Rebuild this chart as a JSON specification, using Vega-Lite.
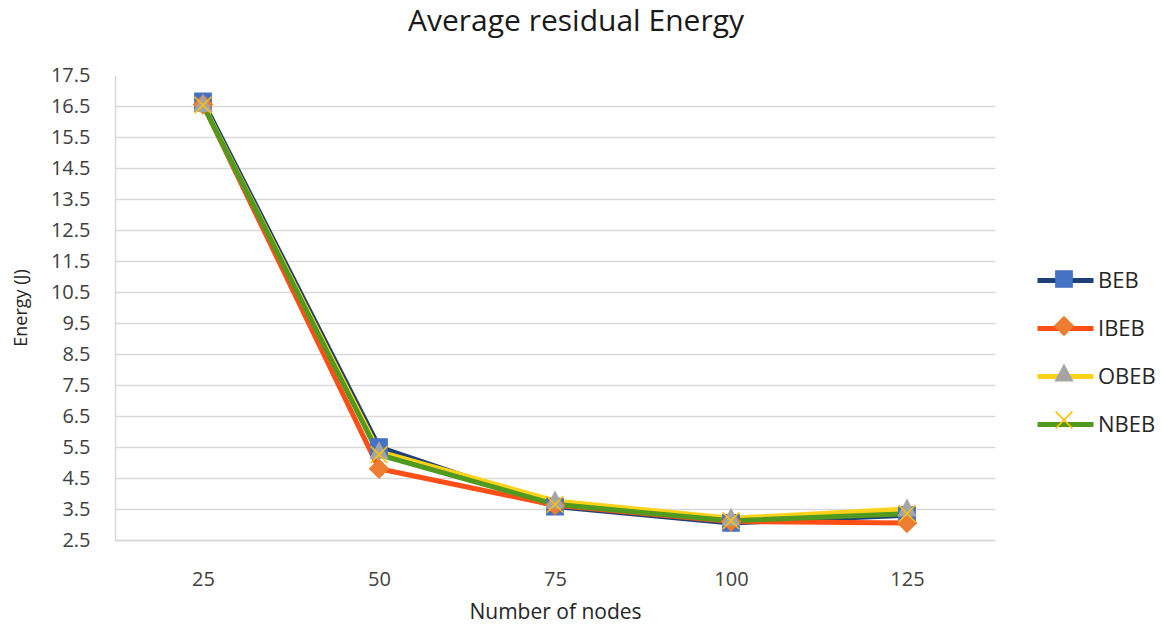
{
  "$schema": "https://vega.github.io/schema/vega-lite/v6.json",
  "width": 880,
  "height": 465,
  "autosize": {"type": "none"},
  "padding": {"left": 115, "top": 75, "right": 166, "bottom": 87},
  "background": "white",
  "config": {
    "font": "Open Sans",
    "view": {"stroke": null}
  },
  "title": {
    "text": "Average residual Energy",
    "fontSize": 30,
    "fontWeight": "normal",
    "color": "#1a1a1a",
    "anchor": "middle",
    "frame": "group",
    "dx": 21,
    "offset": 28
  },
  "data": {
    "values": [
      {"nodes": 25, "series": "BEB", "energy": 16.65},
      {"nodes": 50, "series": "BEB", "energy": 5.5},
      {"nodes": 75, "series": "BEB", "energy": 3.58},
      {"nodes": 100, "series": "BEB", "energy": 3.05},
      {"nodes": 125, "series": "BEB", "energy": 3.3},
      {"nodes": 25, "series": "IBEB", "energy": 16.55},
      {"nodes": 50, "series": "IBEB", "energy": 4.8},
      {"nodes": 75, "series": "IBEB", "energy": 3.62},
      {"nodes": 100, "series": "IBEB", "energy": 3.1},
      {"nodes": 125, "series": "IBEB", "energy": 3.05},
      {"nodes": 25, "series": "OBEB", "energy": 16.55},
      {"nodes": 50, "series": "OBEB", "energy": 5.35},
      {"nodes": 75, "series": "OBEB", "energy": 3.76},
      {"nodes": 100, "series": "OBEB", "energy": 3.2},
      {"nodes": 125, "series": "OBEB", "energy": 3.5},
      {"nodes": 25, "series": "NBEB", "energy": 16.53},
      {"nodes": 50, "series": "NBEB", "energy": 5.25},
      {"nodes": 75, "series": "NBEB", "energy": 3.65},
      {"nodes": 100, "series": "NBEB", "energy": 3.12},
      {"nodes": 125, "series": "NBEB", "energy": 3.35}
    ]
  },
  "encoding": {
    "x": {
      "field": "nodes",
      "type": "ordinal",
      "scale": {"type": "point", "padding": 0.5},
      "axis": {
        "title": "Number of nodes",
        "titleFontSize": 21,
        "titleFontWeight": "normal",
        "titleColor": "#262626",
        "titlePadding": 12,
        "labelAngle": 0,
        "labelFontSize": 20,
        "labelColor": "#404040",
        "labelPadding": 29,
        "ticks": false,
        "domainColor": "#d9d9d9",
        "domainWidth": 1.5,
        "grid": false
      }
    },
    "y": {
      "field": "energy",
      "type": "quantitative",
      "scale": {"domain": [2.5, 17.5], "nice": false, "zero": false},
      "axis": {
        "title": "Energy (J)",
        "titleFontSize": 18,
        "titleFontWeight": "normal",
        "titleColor": "#262626",
        "titlePadding": 20,
        "values": [2.5, 3.5, 4.5, 5.5, 6.5, 7.5, 8.5, 9.5, 10.5, 11.5, 12.5, 13.5, 14.5, 15.5, 16.5, 17.5],
        "format": ".1f",
        "labelFontSize": 20,
        "labelColor": "#404040",
        "labelPadding": 25,
        "ticks": false,
        "domainColor": "#d9d9d9",
        "domainWidth": 1.5,
        "grid": true,
        "gridColor": {"condition": {"test": "datum.value >= 17.5", "value": "transparent"}, "value": "#d9d9d9"},
        "gridWidth": 1.5
      }
    }
  },
  "layer": [
    {
      "mark": {"type": "line", "strokeWidth": 5, "strokeJoin": "round", "strokeCap": "round"},
      "encoding": {
        "color": {
          "field": "series",
          "type": "nominal",
          "sort": null,
          "scale": {"range": ["#1F3F77", "#FF4F17", "#FFD21A", "#4F9A1F"]},
          "legend": {
            "title": null,
            "orient": "none",
            "legendX": 920,
            "legendY": 175,
            "padding": 0,
            "symbolType": "M-1,0L1,0",
            "symbolSize": 3136,
            "symbolStrokeWidth": 5,
            "rowPadding": 6,
            "labelFontSize": 22,
            "labelColor": "#262626",
            "labelOffset": 2
          }
        }
      }
    },
    {
      "mark": {"type": "point", "filled": true, "opacity": 1, "strokeWidth": 1.5, "size": 3136},
      "encoding": {
        "fill": {
          "field": "series",
          "type": "nominal",
          "scale": {"domain": ["BEB", "IBEB", "OBEB", "NBEB"], "range": ["#4472C4", "#ED7D31", "#A5A5A5", "#FFC000"]},
          "legend": null
        },
        "stroke": {
          "field": "series",
          "type": "nominal",
          "scale": {"domain": ["BEB", "IBEB", "OBEB", "NBEB"], "range": ["#4472C4", "#ED7D31", "#A5A5A5", "#FFC000"]},
          "legend": null
        },
        "shape": {
          "field": "series",
          "type": "nominal",
          "scale": {
            "domain": ["BEB", "IBEB", "OBEB", "NBEB"],
            "range": [
              "M-0.29,-0.29H0.29V0.29H-0.29Z",
              "M0,-0.33L0.33,0L0,0.33L-0.33,0Z",
              "M0,-0.32L0.3,0.24L-0.3,0.24Z",
              "M-0.3,-0.3L0.3,0.3M-0.3,0.3L0.3,-0.3"
            ]
          },
          "legend": {
            "title": null,
            "orient": "none",
            "legendX": 920,
            "legendY": 175,
            "padding": 0,
            "symbolSize": 3136,
            "symbolStrokeWidth": 1.5,
            "rowPadding": 6,
            "labelFontSize": 22,
            "labelExpr": "''",
            "labelOffset": 2
          }
        }
      }
    }
  ]
}
